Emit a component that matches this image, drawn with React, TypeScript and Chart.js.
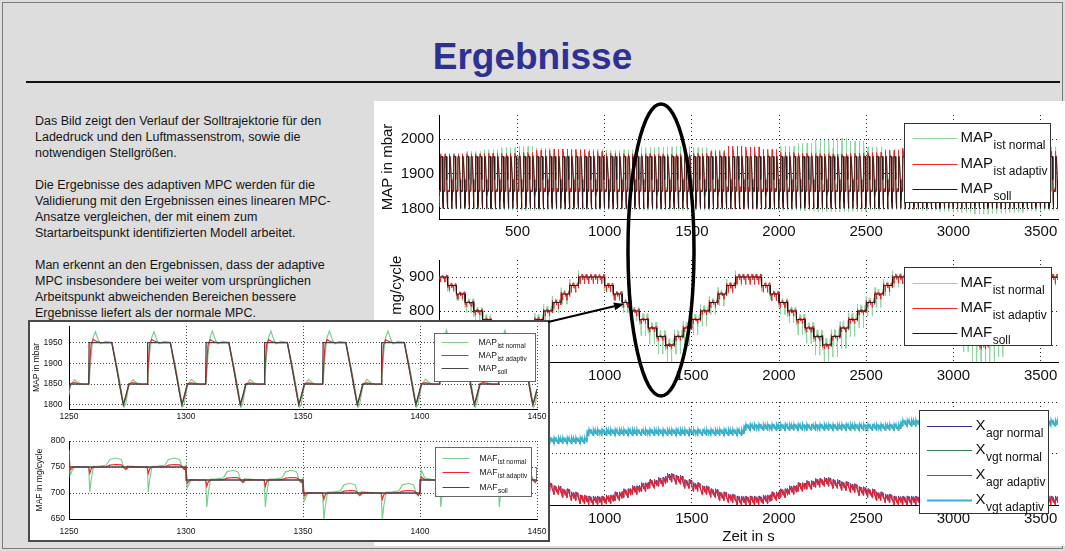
import React, { useEffect, useRef } from "react";
import { Chart, registerables } from "chart.js";

Chart.register(...registerables);

// ================= DATA =================
// tick labels
const timeTicks = [500, 1000, 1500, 2000, 2500, 3000, 3500];
const mapTicks = [1800, 1900, 2000];
const mafTicks = [700, 800, 900];
const xTicks = [0, 50, 100];
const zoomTimeTicks = [1250, 1300, 1350, 1400, 1450];
const zoomMapTicks = [1800, 1850, 1900, 1950];
const zoomMafTicks = [650, 700, 750, 800];

// time structure (s)
const cyclePeriod = 25; // one MAP setpoint cycle
const cycleCount = 144;
const mafBlock = 50; // duration of one MAF setpoint level
const ampBlock = 100; // duration of one amplitude entry
const vgtBlock = 900; // duration of one VGT level

// MAF setpoint (mg/cycle), one value per 50 s
const mafSollLevels = [
  900, 900, 875, 850, 825, 800, 775, 750, 725, 700,
  725, 750, 775, 800, 825, 850, 875, 900, 900, 900,
  875, 850, 825, 800, 775, 750, 725, 700, 725, 750,
  775, 800, 825, 850, 875, 900, 900, 900, 875, 850,
  825, 800, 775, 750, 725, 700, 725, 750, 775, 800,
  825, 850, 875, 900, 900, 900, 875, 850, 825, 800,
  775, 750, 725, 700, 725, 750, 775, 800, 825, 850,
  875, 900,
];

// MAP response within one 25 s cycle (mbar)
const mapPhase = [0, 0.6, 2.3, 4.0, 6.0, 8.4, 8.6, 9.4, 10.3, 11.3, 12.5, 13.5, 15.5, 18.3, 20.5, 22.6, 23.2, 23.6, 24.3];
const mapSollTpl = [1838, 1850, 1850, 1850, 1850, 1850, 1950, 1950, 1950, 1950, 1950, 1950, 1950, 1950, 1883, 1818, 1800, 1808, 1823];
const mapNormalTpl = [1828, 1846, 1861, 1853, 1849, 1850, 1853, 1922, 1962, 1977, 1957, 1947, 1953, 1951, 1893, 1828, 1805, 1795, 1803];
const mapNormalOsc = [0, 0, 11, 3, -1, 0, 0, 0, 12, 27, 7, -3, 3, 1, 0, 0, 0, -5, -3];
const mapAdaptTpl = [1836, 1851, 1853, 1851, 1850, 1850, 1870, 1944, 1957, 1954, 1951, 1950, 1950, 1950, 1886, 1818, 1802, 1806, 1820];
const mapAdaptOsc = [0, 1, 3, 1, 0, 0, 0, 0, 7, 4, 1, 0, 0, 0, 0, 0, 2, -2, -1];
const mapNormalRef = 27;
const mapAdaptRef = 7;
// overshoot above 1950 mbar, one value per 100 s
const mapNormalAmp = [5, 10, 15, 20, 26, 30, 25, 22, 22, 22, 18, 20, 26, 28, 30, 26, 20, 17, 18, 22, 30, 38, 48, 53, 45, 28, 20, 22, 30, 45, 60, 88, 75, 60, 40, 28];
const mapAdaptAmp = [8, 6, 8, 10, 10, 12, 18, 22, 20, 15, 10, 8, 8, 7, 8, 10, 15, 30, 28, 20, 12, 10, 8, 8, 10, 12, 18, 25, 20, 15, 12, 10, 10, 12, 15, 15];

// MAF deviation within one cycle (normalised to the dip)
const mafPhase = [0, 0.5, 2.0, 6.0, 8.4, 8.9, 9.5, 10.5, 13.0, 16.0, 17.5, 20.0, 22.3, 23.5, 24.3, 24.95];
const mafNormalDev = [0.04, 0.04, 0.03, 0, 0, -1.0, -0.5, 0.03, 0.04, 0.08, 0.3, 0.36, 0.3, -0.05, -0.1, 0.02];
const mafAdaptDev = [0, 0, 0.05, 0, 0, -1.0, -0.3, 0, 0, 0.05, 0.3, 0.4, 0.35, 0, -0.4, 0.05];
const mafNormalStep = [-1, 0.7, 0.1, 0, 0, 0, 0, 0, 0, 0, 0, 0, 0, 0, 0, 0];
const mafAdaptStep = [-1, 0.25, 0, 0, 0, 0, 0, 0, 0, 0, 0, 0, 0, 0, 0, 0];
// dip depth (mg/cycle), one value per 100 s
const mafNormalAmp = [15, 20, 30, 40, 45, 45, 40, 30, 20, 15, 20, 30, 48, 52, 52, 45, 35, 25, 15, 20, 35, 45, 55, 60, 50, 40, 30, 20, 30, 45, 70, 90, 85, 60, 40, 25];
const mafAdaptAmp = [15, 15, 12, 12, 12, 12, 15, 18, 20, 20, 18, 15, 12, 12, 12, 12, 15, 20, 22, 20, 15, 12, 12, 12, 12, 15, 18, 20, 20, 15, 12, 12, 12, 15, 18, 20];

// actuators
const xVgtLevels = [63, 71, 76, 80]; // one value per 900 s
const xAgrLevels = [
  4, 4, 5, 8, 11, 14, 17, 20, 23, 25,
  24, 21, 18, 17, 14, 11, 8, 5, 4, 4,
  5, 8, 11, 14, 17, 20, 22, 26, 24, 20,
  17, 14, 11, 8, 6, 4, 4, 4, 5, 8,
  11, 14, 17, 19, 21, 22, 20, 18, 16, 13,
  11, 8, 6, 4, 4, 4, 5, 8, 11, 14,
  17, 20, 22, 24, 22, 19, 16, 13, 10, 7,
  5, 4,
]; // one value per 50 s
const xPhase = [0, 4, 8.6, 10.5, 14, 18.3, 21, 23.2];
const xRipple = [0.3, -0.2, -1, 1, 0.4, 0.1, 0.8, -0.4];
const xVgtRipple = 3;
const xAgrRipple = 4;
const xAgrNormalShift = 0.8;
const xVgtNormalShift = -0.6;

// ================= BUILD =================
type Pt = { x: number; y: number };

function buildSeries() {
  const s: Record<string, Pt[]> = {
    mapSoll: [], mapNormal: [], mapAdapt: [],
    mafSoll: [], mafNormal: [], mafAdapt: [],
    xAgrN: [], xVgtN: [], xAgrA: [], xVgtA: [],
  };
  for (let k = 0; k < cycleCount; k++) {
    const t0 = k * cyclePeriod;
    const a = Math.floor(t0 / ampBlock);
    const fN = mapNormalAmp[a] / mapNormalRef - 1;
    const fA = mapAdaptAmp[a] / mapAdaptRef - 1;
    mapPhase.forEach((p, i) => {
      s.mapSoll.push({ x: t0 + p, y: mapSollTpl[i] });
      s.mapNormal.push({ x: t0 + p, y: mapNormalTpl[i] + mapNormalOsc[i] * fN });
      s.mapAdapt.push({ x: t0 + p, y: mapAdaptTpl[i] + mapAdaptOsc[i] * fA });
    });
    const b = Math.floor(t0 / mafBlock);
    const lvl = mafSollLevels[b];
    const d = t0 % mafBlock === 0 && b > 0 ? lvl - mafSollLevels[b - 1] : 0;
    mafPhase.forEach((p, i) => {
      s.mafSoll.push({ x: t0 + p, y: lvl });
      s.mafNormal.push({ x: t0 + p, y: lvl + mafNormalDev[i] * mafNormalAmp[a] + mafNormalStep[i] * d });
      s.mafAdapt.push({ x: t0 + p, y: lvl + mafAdaptDev[i] * mafAdaptAmp[a] + mafAdaptStep[i] * d });
    });
    const vgt = xVgtLevels[Math.floor(t0 / vgtBlock)];
    const agr = xAgrLevels[b];
    xPhase.forEach((p, i) => {
      s.xVgtA.push({ x: t0 + p, y: vgt + xRipple[i] * xVgtRipple });
      s.xVgtN.push({ x: t0 + p, y: vgt + xRipple[i] * xVgtRipple + xVgtNormalShift });
      s.xAgrA.push({ x: t0 + p, y: agr + xRipple[i] * xAgrRipple });
      s.xAgrN.push({ x: t0 + p, y: agr + xRipple[i] * xAgrRipple + xAgrNormalShift });
    });
  }
  return s;
}

// ================= STYLE =================
const FONT = '"Liberation Sans", Arial, Helvetica, sans-serif';
const C_GREEN = "#8ed6a0";
const C_GREEN_ZOOM = "#7ccf91";
const C_RED = "#f2272c";
const C_BLACK = "#1a1a1a";
const C_SOLL_ZOOM = "#474747";
const C_XBLUE = "#2b2f8f";
const C_XGREEN = "#2e7f55";
const C_XRED = "#ec2330";
const C_XCYAN = "#36b3d3";

function lineDs(data: Pt[], color: string, width: number) {
  return { data, borderColor: color, borderWidth: width, pointRadius: 0, tension: 0, fill: false, spanGaps: true };
}

function scaleOpts(o: any) {
  const vertical = o.position === "left";
  return {
    type: "linear",
    position: o.position,
    min: o.min,
    max: o.max,
    afterBuildTicks: (sc: any) => {
      sc.ticks = o.ticks.map((v: number) => ({ value: v }));
    },
    afterFit: (sc: any) => {
      if (vertical) sc.width = o.size;
      else sc.height = o.size;
      sc.paddingLeft = 0;
      sc.paddingRight = 0;
      sc.paddingTop = 0;
      sc.paddingBottom = 0;
    },
    ticks: {
      display: true,
      font: { family: FONT, size: o.font },
      color: "#111",
      padding: o.pad,
      autoSkip: false,
      maxRotation: 0,
      minRotation: 0,
      callback: (v: any) => String(v),
    },
    grid: { color: o.gridColor, lineWidth: 1, drawTicks: false },
    border: { display: true, color: "#000", width: 1, dash: o.dash },
    title: o.title
      ? {
          display: true,
          text: o.title,
          color: "#111",
          font: { family: FONT, size: o.titleSize },
          padding: vertical ? { top: o.titlePad, bottom: 0 } : { top: 0, bottom: o.titlePad },
        }
      : { display: false },
  };
}

function legendPlugin(cfg: any) {
  return {
    id: "subLegend",
    afterDraw(chart: any) {
      const { ctx, chartArea } = chart;
      const x0 = Math.round(chartArea.right - cfg.right - cfg.width) + 0.5;
      const y0 = Math.round(chartArea.top + cfg.top) + 0.5;
      ctx.save();
      ctx.fillStyle = "#ffffff";
      ctx.fillRect(x0, y0, cfg.width, cfg.height);
      ctx.strokeStyle = cfg.borderColor;
      ctx.lineWidth = 1;
      ctx.strokeRect(x0, y0, cfg.width, cfg.height);
      cfg.items.forEach((it: any, i: number) => {
        const ly = Math.round(y0 + cfg.first + i * cfg.gap) + 0.5;
        ctx.strokeStyle = it.color;
        ctx.lineWidth = it.width || 1;
        ctx.beginPath();
        ctx.moveTo(x0 + cfg.lineFrom, ly);
        ctx.lineTo(x0 + cfg.lineTo, ly);
        ctx.stroke();
        ctx.fillStyle = "#111";
        ctx.textBaseline = "alphabetic";
        ctx.textAlign = "left";
        ctx.font = `${cfg.mainSize}px ${FONT}`;
        ctx.fillText(it.main, x0 + cfg.textX, ly + cfg.mainDy);
        const mw = ctx.measureText(it.main).width;
        ctx.font = `${cfg.subSize}px ${FONT}`;
        ctx.fillText(it.sub, x0 + cfg.textX + mw + 0.5, ly + cfg.subDy);
      });
      ctx.restore();
    },
  };
}

function makeChart(canvas: HTMLCanvasElement, datasets: any[], x: any, y: any, padding: any, legend: any) {
  return new Chart(canvas, {
    type: "line",
    data: { datasets },
    options: {
      animation: false,
      responsive: false,
      devicePixelRatio: 1,
      events: [],
      parsing: false,
      normalized: true,
      layout: { padding },
      plugins: { legend: { display: false }, tooltip: { enabled: false } },
      scales: { x, y },
    } as any,
    plugins: [legendPlugin(legend)],
  } as any);
}

const mainLegendBase = { lineFrom: 8, lineTo: 53, textX: 56, mainSize: 15, subSize: 12, mainDy: 3, subDy: 10, borderColor: "#333" };
const zoomLegendBase = { lineFrom: 7, lineTo: 34, textX: 44, mainSize: 8.5, subSize: 6.5, mainDy: 2, subDy: 5, borderColor: "#666" };

const bodyLines = [
  "Das Bild zeigt den Verlauf der Solltrajektorie für den",
  "Ladedruck und den Luftmassenstrom, sowie die",
  "notwendigen Stellgrößen.",
  "",
  "Die Ergebnisse des adaptiven MPC werden für die",
  "Validierung mit den Ergebnissen eines linearen MPC-",
  "Ansatze vergleichen, der mit einem zum",
  "Startarbeitspunkt identifizierten Modell arbeitet.",
  "",
  "Man erkennt an den Ergebnissen, dass der adaptive",
  "MPC insbesondere bei weiter vom ursprünglichen",
  "Arbeitspunkt abweichenden Bereichen bessere",
  "Ergebnisse liefert als der normale MPC.",
];

export default function App() {
  const r1 = useRef<HTMLCanvasElement>(null);
  const r2 = useRef<HTMLCanvasElement>(null);
  const r3 = useRef<HTMLCanvasElement>(null);
  const r4 = useRef<HTMLCanvasElement>(null);
  const r5 = useRef<HTMLCanvasElement>(null);

  useEffect(() => {
    const s = buildSeries();
    const zoom = (arr: Pt[]) => arr.filter((p) => p.x >= 1240 && p.x <= 1460);
    const charts: Chart[] = [];
    const mainY = (o: any) => scaleOpts({ position: "left", size: 65, font: 15, pad: 5, gridColor: "#222", dash: [1, 3], titleSize: 15, ...o });
    const mainX = (o: any) => scaleOpts({ position: "bottom", min: 50, max: 3600, ticks: timeTicks, font: 15, gridColor: "#222", dash: [1, 3], titleSize: 15, ...o });

    charts.push(
      makeChart(
        r1.current!,
        [lineDs(s.mapSoll, C_BLACK, 0.75), lineDs(s.mapAdapt, C_RED, 1), lineDs(s.mapNormal, C_GREEN, 1)],
        mainX({ size: 25, pad: 4 }),
        mainY({ min: 1770, max: 2070, ticks: mapTicks, title: "MAP in mbar", titlePad: 5 }),
        { left: 0, right: 7, top: 14, bottom: 0 },
        {
          ...mainLegendBase, right: 8, top: 8, width: 146, height: 79, first: 14.5, gap: 25.5,
          items: [
            { main: "MAP", sub: "ist normal", color: C_GREEN },
            { main: "MAP", sub: "ist adaptiv", color: C_RED },
            { main: "MAP", sub: "soll", color: C_BLACK },
          ],
        }
      )
    );
    charts.push(
      makeChart(
        r2.current!,
        [lineDs(s.mafSoll, C_BLACK, 1), lineDs(s.mafAdapt, C_RED, 1), lineDs(s.mafNormal, C_GREEN, 1)],
        mainX({ size: 28, pad: 5 }),
        mainY({ min: 650, max: 950, ticks: mafTicks, title: "MAF in mg/cycle", titlePad: 14 }),
        { left: 0, right: 7, top: 16, bottom: 0 },
        {
          ...mainLegendBase, right: 7, top: 7, width: 147, height: 78, first: 15, gap: 25.3,
          items: [
            { main: "MAF", sub: "ist normal", color: C_GREEN },
            { main: "MAF", sub: "ist adaptiv", color: C_RED },
            { main: "MAF", sub: "soll", color: C_BLACK },
          ],
        }
      )
    );
    charts.push(
      makeChart(
        r3.current!,
        [lineDs(s.xVgtA, C_XCYAN, 1.2), lineDs(s.xAgrA, C_XRED, 1), lineDs(s.xVgtN, C_XGREEN, 1), lineDs(s.xAgrN, C_XBLUE, 1)],
        mainX({ size: 41, pad: 5, title: "Zeit in s", titlePad: 0 }),
        mainY({ min: 0, max: 100, ticks: xTicks }),
        { left: 0, right: 7, top: 12, bottom: 0 },
        {
          ...mainLegendBase, right: 10, top: 8, width: 129, height: 103, first: 15, gap: 24.7, lineFrom: 7.5, lineTo: 52.5,
          items: [
            { main: "X", sub: "agr normal", color: C_XBLUE },
            { main: "X", sub: "vgt normal", color: C_XGREEN },
            { main: "X", sub: "agr adaptiv", color: C_XRED },
            { main: "X", sub: "vgt adaptiv", color: C_XCYAN, width: 2 },
          ],
        }
      )
    );
    const zoomX = (o: any) => scaleOpts({ position: "bottom", min: 1250, max: 1450, ticks: zoomTimeTicks, font: 8.5, gridColor: "#444", dash: [1, 2], ...o });
    const zoomY = (o: any) => scaleOpts({ position: "left", size: 39, font: 8.5, gridColor: "#444", dash: [1, 2], titleSize: 8.5, ...o });
    charts.push(
      makeChart(
        r4.current!,
        [lineDs(zoom(s.mapSoll), C_SOLL_ZOOM, 1.3), lineDs(zoom(s.mapAdapt), C_RED, 1.2), lineDs(zoom(s.mapNormal), C_GREEN_ZOOM, 1.2)],
        zoomX({ size: 16, pad: 3 }),
        zoomY({ min: 1790, max: 1990, ticks: zoomMapTicks, pad: 6.5, title: "MAP in mbar", titlePad: 1.4 }),
        { left: 0, right: 11, top: 4, bottom: 0 },
        {
          ...zoomLegendBase, right: 2, top: 7, width: 101, height: 48, first: 8, gap: 13.3,
          items: [
            { main: "MAP", sub: "ist normal", color: C_GREEN_ZOOM },
            { main: "MAP", sub: "ist adaptiv", color: C_RED },
            { main: "MAP", sub: "soll", color: C_SOLL_ZOOM },
          ],
        }
      )
    );
    charts.push(
      makeChart(
        r5.current!,
        [lineDs(zoom(s.mafSoll), C_SOLL_ZOOM, 1.3), lineDs(zoom(s.mafAdapt), C_RED, 1.2), lineDs(zoom(s.mafNormal), C_GREEN_ZOOM, 1.2)],
        zoomX({ size: 19, pad: 8 }),
        zoomY({ min: 650, max: 800, ticks: zoomMafTicks, pad: 4, title: "MAF in mg/cycle", titlePad: 4.9 }),
        { left: 0, right: 11, top: 16, bottom: 0 },
        {
          ...zoomLegendBase, right: 6, top: 6, width: 96, height: 49, first: 10, gap: 14.7,
          items: [
            { main: "MAF", sub: "ist normal", color: C_GREEN_ZOOM },
            { main: "MAF", sub: "ist adaptiv", color: C_RED },
            { main: "MAF", sub: "soll", color: C_SOLL_ZOOM },
          ],
        }
      )
    );
    return () => charts.forEach((c) => c.destroy());
  }, []);

  const abs = (l: number, t: number, w: number, h: number): React.CSSProperties => ({
    position: "absolute", left: l, top: t, width: w, height: h,
  });

  // arrow geometry (annotation)
  const ax1 = 548, ay1 = 322, ax2 = 624, ay2 = 304;
  const len = Math.hypot(ax2 - ax1, ay2 - ay1);
  const ux = (ax2 - ax1) / len, uy = (ay2 - ay1) / len;
  const hl = 10, hw = 4;
  const bx = ax2 - ux * hl, by = ay2 - uy * hl;
  const head = `${ax2},${ay2} ${bx - uy * hw},${by + ux * hw} ${bx + uy * hw},${by - ux * hw}`;

  return (
    <div style={{ ...abs(0, 0, 1065, 551), background: "#dddddd", overflow: "hidden", fontFamily: FONT }}>
      <div style={{ ...abs(2, 2, 1059, 545), border: "1px solid #7a7a7a" }} />
      <div
        style={{
          position: "absolute", left: 0, top: 37, width: 1065, textAlign: "center",
          fontSize: 37, lineHeight: "40px", fontWeight: "bold", color: "#2e3192",
        }}
      >
        Ergebnisse
      </div>
      <div style={{ ...abs(26, 81, 1034, 2), background: "#111" }} />
      <div style={{ position: "absolute", left: 35, top: 113, fontSize: 12.5, lineHeight: "16px", color: "#151515" }}>
        {bodyLines.map((l, i) => (
          <div key={i} style={{ height: 16, whiteSpace: "nowrap" }}>{l}</div>
        ))}
      </div>
      <div style={{ ...abs(374, 101, 691, 445), background: "#ffffff" }} />
      <canvas ref={r1} width={691} height={143} style={abs(374, 101, 691, 143)} />
      <canvas ref={r2} width={691} height={146} style={abs(374, 244, 691, 146)} />
      <canvas ref={r3} width={691} height={156} style={abs(374, 390, 691, 156)} />
      <div style={{ ...abs(28, 320, 518, 218), border: "2px solid #4a4a4a", background: "#ffffff" }} />
      <canvas ref={r4} width={518} height={103} style={abs(30, 322, 518, 103)} />
      <canvas ref={r5} width={518} height={113} style={abs(30, 425, 518, 113)} />
      <svg width={1065} height={551} style={{ position: "absolute", left: 0, top: 0, pointerEvents: "none" }}>
        <ellipse cx={661} cy={250} rx={33} ry={146} fill="none" stroke="#000" strokeWidth={3.5} />
        <line x1={ax1} y1={ay1} x2={bx} y2={by} stroke="#000" strokeWidth={2} />
        <polygon points={head} fill="#000" />
      </svg>
    </div>
  );
}
